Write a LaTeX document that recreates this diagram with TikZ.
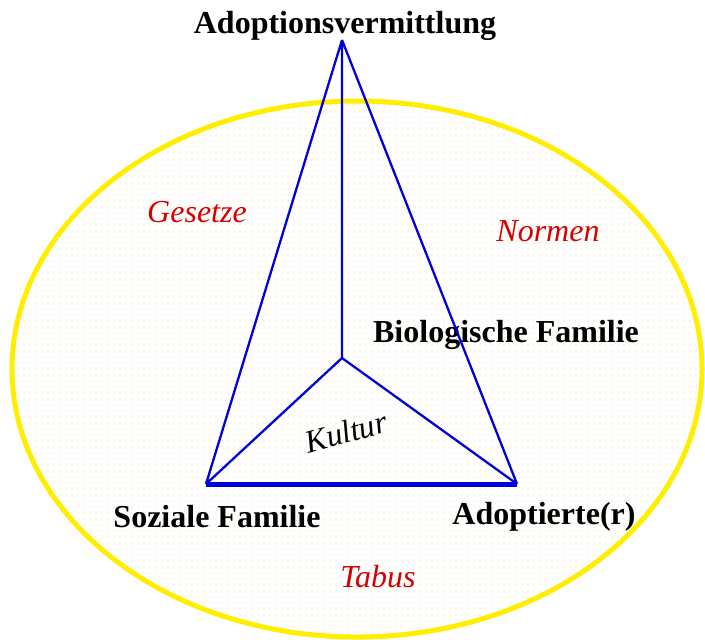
\documentclass[tikz,border=0pt]{standalone}
\usepackage{fontspec}
\setmainfont{Liberation Serif}
\usetikzlibrary{patterns.meta}
\definecolor{rimyellow}{RGB}{255,238,0}
\definecolor{dotyellow}{RGB}{232,226,140}
\definecolor{edgeblue}{RGB}{0,0,215}
\definecolor{wordred}{RGB}{215,0,0}
\tikzset{
	rolebox/.style={font=\fontsize{16}{19}\selectfont\bfseries, inner sep=0pt},
	rulebox/.style={font=\fontsize{16}{19}\selectfont\itshape, text=wordred, inner sep=0pt},
	edgeline/.style={draw=edgeblue, line width=1.15pt}
}
\begin{document}
\begin{tikzpicture}[x=0.5pt,y=-0.5pt,line join=round]
		\useasboundingbox (0,0) rectangle (705,639);

		% umgebende Gesellschaft
		\draw[rimyellow,
			line width=2.5pt,
			pattern={Dots[distance=3pt, radius=0.3pt]},
			pattern color=dotyellow
		] (357,369) ellipse [x radius=345, y radius=268];

		\coordinate (apex) at (342,40);
		\coordinate (mitte) at (342,358);
		\coordinate (links) at (206,484);
		\coordinate (rechts) at (517,484);

		\node[rolebox] (vermittlung) at (345,26) {Adoptionsvermittlung};
		\node[rolebox] (biologisch) at (506,335) {Biologische Familie};
		\node[rolebox] (sozial) at (217,517) {Soziale Familie};
		\node[rolebox] (adoptiert) at (544,517) {Adoptierte(r)};

		\node[rulebox] (gesetze) at (197,212) {Gesetze};
		\node[rulebox] (normen) at (548,231) {Normen};
		\node[rulebox] (tabus) at (378,577) {Tabus};

		\node[rotate=15,
			inner sep=0pt,
			font=\fontsize{16}{19}\selectfont\itshape
		] (kultur) at (346,432) {Kultur};

		\draw[edgeline] (apex) -- (links)
		(apex) -- (rechts)
		(apex) -- (mitte)
		(mitte) -- (links)
		(mitte) -- (rechts);
		\draw[edgeblue, line width=2.5pt] (links) -- (rechts);

	\end{tikzpicture}
\end{document}
